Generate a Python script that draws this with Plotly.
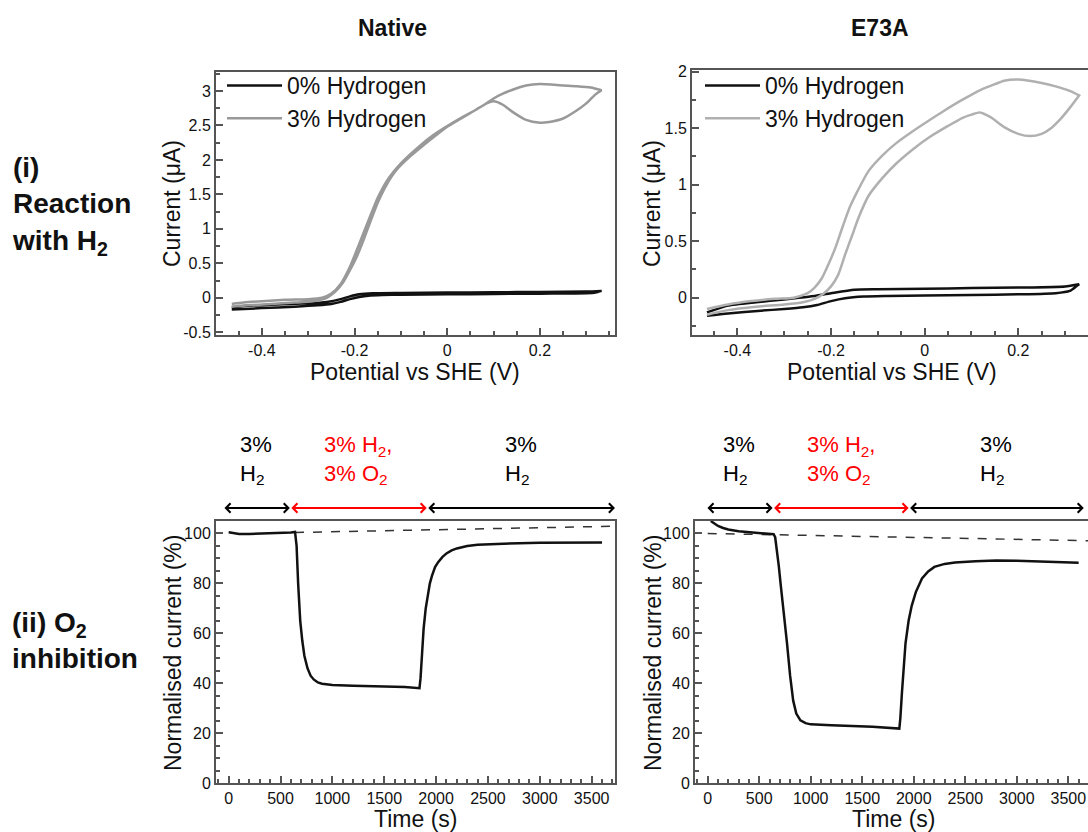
import plotly.graph_objects as go

W, H = 1088, 832
FONT = "Liberation Sans, Arial, sans-serif"

# ---------------- data: cyclic voltammetry (Native) ----------------
nat_h3_fwd_v = [-0.465, -0.43, -0.38, -0.33, -0.29, -0.26, -0.24, -0.225, -0.21, -0.195, -0.18, -0.165, -0.15, -0.13,
                -0.11, -0.08, -0.05, -0.02, 0.0, 0.03, 0.06, 0.085, 0.1, 0.12, 0.14, 0.17, 0.2, 0.22, 0.25, 0.28, 0.3,
                0.32, 0.333]
nat_h3_fwd_i = [-0.13, -0.11, -0.09, -0.07, -0.05, 0.0, 0.1, 0.22, 0.4, 0.6, 0.85, 1.12, 1.38, 1.65, 1.85, 2.05, 2.22,
                2.38, 2.48, 2.6, 2.72, 2.82, 2.85, 2.8, 2.7, 2.58, 2.54, 2.55, 2.6, 2.72, 2.82, 2.95, 3.01]
nat_h3_rev_v = [0.333, 0.31, 0.28, 0.25, 0.2, 0.17, 0.15, 0.12, 0.1, 0.08, 0.06, 0.03, 0.0, -0.03, -0.06, -0.1, -0.13,
                -0.15, -0.17, -0.19, -0.21, -0.23, -0.25, -0.27, -0.3, -0.35, -0.4, -0.44, -0.465]
nat_h3_rev_i = [3.01, 3.05, 3.07, 3.08, 3.1, 3.08, 3.04, 2.96, 2.89, 2.8, 2.72, 2.61, 2.49, 2.36, 2.2, 1.95, 1.7, 1.45,
                1.12, 0.78, 0.45, 0.2, 0.06, 0.0, -0.02, -0.03, -0.05, -0.07, -0.09]
nat_h0_fwd_v = [-0.465, -0.4, -0.33, -0.28, -0.25, -0.23, -0.21, -0.19, -0.17, -0.14, -0.1, 0.0, 0.1, 0.2, 0.3, 0.32, 0.333]
nat_h0_fwd_i = [-0.17, -0.15, -0.13, -0.11, -0.09, -0.06, -0.02, 0.01, 0.03, 0.04, 0.045, 0.05, 0.055, 0.06, 0.065,
                0.075, 0.1]
nat_h0_rev_v = [0.333, 0.3, 0.2, 0.1, 0.0, -0.1, -0.16, -0.19, -0.21, -0.23, -0.26, -0.3, -0.38, -0.44, -0.465]
nat_h0_rev_i = [0.1, 0.09, 0.085, 0.08, 0.075, 0.07, 0.065, 0.05, 0.02, -0.02, -0.06, -0.08, -0.1, -0.12, -0.14]

# ---------------- data: cyclic voltammetry (E73A) ----------------
e73_h3_fwd_v = [-0.465, -0.42, -0.36, -0.3, -0.26, -0.235, -0.215, -0.2, -0.185, -0.17, -0.155, -0.14, -0.12, -0.09,
                -0.06, -0.02, 0.01, 0.05, 0.08, 0.1, 0.118, 0.14, 0.17, 0.2, 0.225, 0.25, 0.27, 0.29, 0.31, 0.33]
e73_h3_fwd_i = [-0.15, -0.11, -0.08, -0.06, -0.04, -0.01, 0.04, 0.1, 0.2, 0.38, 0.55, 0.72, 0.9, 1.06, 1.19, 1.33, 1.42,
                1.52, 1.59, 1.62, 1.64, 1.6, 1.51, 1.45, 1.43, 1.45, 1.5, 1.58, 1.68, 1.79]
e73_h3_rev_v = [0.33, 0.31, 0.28, 0.25, 0.2, 0.17, 0.15, 0.12, 0.08, 0.04, 0.01, -0.03, -0.06, -0.09, -0.12, -0.145,
                -0.16, -0.175, -0.19, -0.205, -0.22, -0.235, -0.25, -0.28, -0.32, -0.37, -0.42, -0.465]
e73_h3_rev_i = [1.79, 1.83, 1.87, 1.9, 1.93, 1.92, 1.89, 1.84, 1.75, 1.65, 1.57, 1.46, 1.37, 1.26, 1.12, 0.93, 0.8,
                0.63, 0.45, 0.3, 0.17, 0.09, 0.04, 0.0, -0.01, -0.03, -0.06, -0.1]
e73_h0_fwd_v = [-0.465, -0.42, -0.35, -0.3, -0.26, -0.23, -0.2, -0.17, -0.13, -0.08, 0.0, 0.1, 0.2, 0.28, 0.31, 0.33]
e73_h0_fwd_i = [-0.16, -0.14, -0.115, -0.1, -0.085, -0.065, -0.03, -0.005, 0.01, 0.015, 0.02, 0.025, 0.03, 0.04, 0.06,
                0.12]
e73_h0_rev_v = [0.33, 0.3, 0.2, 0.1, 0.0, -0.1, -0.15, -0.2, -0.245, -0.3, -0.36, -0.42, -0.465]
e73_h0_rev_i = [0.12, 0.1, 0.09, 0.085, 0.08, 0.075, 0.07, 0.04, 0.01, -0.015, -0.04, -0.07, -0.13]

# ---------------- data: O2 inhibition chronoamperometry ----------------
nat_t = [0, 50, 100, 200, 300, 400, 500, 600, 640, 655, 670, 690, 710, 730, 760, 790, 820, 860, 900, 1000, 1200, 1500,
         1700, 1840, 1850, 1865, 1880, 1900, 1920, 1940, 1960, 1990, 2020, 2060, 2100, 2150, 2200, 2300, 2400, 2600,
         2800, 3000, 3200, 3400, 3600]
nat_cur = [100.5, 100.2, 99.8, 99.8, 99.9, 100.0, 100.2, 100.4, 100.6, 95, 80, 65, 57, 51, 46, 43, 41.5, 40.3, 39.8,
           39.3, 39.0, 38.8, 38.5, 38.0, 42, 52, 62, 70, 76, 80, 83, 86.5, 88.5, 90.5, 92, 93.2, 94, 95, 95.5, 95.9,
           96.1, 96.3, 96.4, 96.5, 96.4]
nat_base_t = [640, 3725]
nat_base_cur = [100.4, 102.9]

e73_t = [30, 60, 100, 150, 200, 300, 400, 500, 600, 640, 655, 670, 690, 710, 740, 770, 800, 830, 860, 900, 950, 1000,
         1200, 1400, 1600, 1860, 1870, 1885, 1900, 1920, 1950, 1980, 2020, 2080, 2140, 2200, 2300, 2400, 2600, 2800,
         3000, 3200, 3400, 3600]
e73_cur = [105, 104, 103, 102.2, 101.6, 100.9, 100.5, 100.2, 99.9, 99.7, 98.5, 94, 87, 79, 68, 56, 43, 33, 27.8, 25.1,
           24.0, 23.5, 23.1, 22.8, 22.5, 21.8, 26, 36, 46, 56, 65, 71, 76.5, 82, 84.8, 86.6, 87.8, 88.4, 88.9, 89.2,
           89.1, 88.9, 88.6, 88.3]
e73_base_t = [0, 3691]
e73_base_cur = [100.0, 97.1]

# gas phase boundaries (s) and labels
nat_phase_edges = [-55, 590, 1910, 3725]
e73_phase_edges = [-17, 630, 1950, 3650]
phase_labels = ["3%<br>H<sub>2</sub>", "3% H<sub>2</sub>,<br>3% O<sub>2</sub>", "3%<br>H<sub>2</sub>"]
phase_colors = ["black", "red", "black"]

# tick labels
cv_x_ticks = [-0.4, -0.2, 0, 0.2]
cv_x_ticktext = ["-0.4", "-0.2", "0", "0.2"]
nat_y_ticks = [-0.5, 0, 0.5, 1, 1.5, 2, 2.5, 3]
nat_y_ticktext = ["-0.5", "0", "0.5", "1", "1.5", "2", "2.5", "3"]
e73_y_ticks = [0, 0.5, 1, 1.5, 2]
e73_y_ticktext = ["0", "0.5", "1", "1.5", "2"]
time_ticks = [0, 500, 1000, 1500, 2000, 2500, 3000, 3500]
norm_ticks = [0, 20, 40, 60, 80, 100]

BLACK = "#111111"
GRAY_N = "#999999"
GRAY_E = "#b0b0b0"
FRAME = "#555555"

fig = go.Figure()


def loop(fv, fi, rv, ri):
    return fv + rv, fi + ri


x, y = loop(nat_h0_fwd_v, nat_h0_fwd_i, nat_h0_rev_v, nat_h0_rev_i)
fig.add_trace(go.Scatter(x=x, y=y, mode="lines", name="0% Hydrogen", line=dict(color=BLACK, width=2.5, shape="spline", smoothing=0.6),
                         xaxis="x", yaxis="y", legend="legend"))
x, y = loop(nat_h3_fwd_v, nat_h3_fwd_i, nat_h3_rev_v, nat_h3_rev_i)
fig.add_trace(go.Scatter(x=x, y=y, mode="lines", name="3% Hydrogen", line=dict(color=GRAY_N, width=2.5, shape="spline", smoothing=0.6),
                         xaxis="x", yaxis="y", legend="legend"))
x, y = loop(e73_h0_fwd_v, e73_h0_fwd_i, e73_h0_rev_v, e73_h0_rev_i)
fig.add_trace(go.Scatter(x=x, y=y, mode="lines", name="0% Hydrogen", line=dict(color=BLACK, width=2.5, shape="spline", smoothing=0.6),
                         xaxis="x2", yaxis="y2", legend="legend2"))
x, y = loop(e73_h3_fwd_v, e73_h3_fwd_i, e73_h3_rev_v, e73_h3_rev_i)
fig.add_trace(go.Scatter(x=x, y=y, mode="lines", name="3% Hydrogen", line=dict(color=GRAY_E, width=2.5, shape="spline", smoothing=0.6),
                         xaxis="x2", yaxis="y2", legend="legend2"))

fig.add_trace(go.Scatter(x=nat_base_t, y=nat_base_cur, mode="lines", showlegend=False,
                         line=dict(color="#333333", width=1.5, dash="dash"), xaxis="x3", yaxis="y3"))
fig.add_trace(go.Scatter(x=nat_t, y=nat_cur, mode="lines", showlegend=False,
                         line=dict(color=BLACK, width=2.5), xaxis="x3", yaxis="y3"))
fig.add_trace(go.Scatter(x=e73_base_t, y=e73_base_cur, mode="lines", showlegend=False,
                         line=dict(color="#333333", width=1.5, dash="dash"), xaxis="x4", yaxis="y4"))
fig.add_trace(go.Scatter(x=e73_t, y=e73_cur, mode="lines", showlegend=False,
                         line=dict(color=BLACK, width=2.5), xaxis="x4", yaxis="y4"))


def px(xp):
    return xp / W


def py(yp):
    return 1 - yp / H


def axis(domain, rng, anchor, **kw):
    d = dict(domain=domain, range=rng, anchor=anchor, showline=True, linecolor=FRAME, linewidth=2, mirror=True,
             ticks="inside", ticklen=7, tickwidth=1.5, tickcolor=FRAME, showgrid=False, zeroline=False,
             tickfont=dict(size=16, color=BLACK, family=FONT), automargin=False)
    d.update(kw)
    return d


fig.update_layout(
    width=W, height=H, autosize=False, margin=dict(l=0, r=0, t=0, b=0),
    paper_bgcolor="white", plot_bgcolor="white", font=dict(family=FONT, color=BLACK),
    xaxis=axis([px(216), px(615)], [-0.499, 0.362], "y", tickvals=cv_x_ticks, ticktext=cv_x_ticktext,
               minor=dict(ticks="inside", ticklen=4, tickcolor=FRAME, dtick=0.05, tick0=0)),
    yaxis=axis([py(335), py(72)], [-0.54, 3.275], "x", tickvals=nat_y_ticks, ticktext=nat_y_ticktext,
               minor=dict(ticks="inside", ticklen=4, tickcolor=FRAME, dtick=0.25, tick0=0)),
    xaxis2=axis([px(692), 1.0], [-0.497, 0.349], "y2", tickvals=cv_x_ticks, ticktext=cv_x_ticktext,
                minor=dict(ticks="inside", ticklen=4, tickcolor=FRAME, dtick=0.05, tick0=0)),
    yaxis2=axis([py(335), py(70)], [-0.33, 2.015], "x2", tickvals=e73_y_ticks, ticktext=e73_y_ticktext,
                minor=dict(ticks="inside", ticklen=4, tickcolor=FRAME, dtick=0.25, tick0=0)),
    xaxis3=axis([px(216), px(615)], [-122, 3725], "y3", tickvals=time_ticks,
                minor=dict(ticks="inside", ticklen=4, tickcolor=FRAME, dtick=100, tick0=0)),
    yaxis3=axis([py(783), py(521)], [0, 105], "x3", tickvals=norm_ticks,
                minor=dict(ticks="inside", ticklen=4, tickcolor=FRAME, dtick=5, tick0=0)),
    xaxis4=axis([px(695), 1.0], [-123, 3691], "y4", tickvals=time_ticks,
                minor=dict(ticks="inside", ticklen=4, tickcolor=FRAME, dtick=100, tick0=0)),
    yaxis4=axis([py(783), py(521)], [0, 105], "x4", tickvals=norm_ticks,
                minor=dict(ticks="inside", ticklen=4, tickcolor=FRAME, dtick=5, tick0=0)),
    legend=dict(x=px(222), y=py(64), xanchor="left", yanchor="top", bgcolor="rgba(0,0,0,0)",
                font=dict(size=23, family=FONT, color=BLACK), tracegroupgap=0, itemwidth=55),
    legend2=dict(x=px(700), y=py(64), xanchor="left", yanchor="top", bgcolor="rgba(0,0,0,0)",
                 font=dict(size=23, family=FONT, color=BLACK), tracegroupgap=0, itemwidth=55),
)


def note(text, xp, yp, size, **kw):
    d = dict(text=text, x=px(xp), y=py(yp), xref="paper", yref="paper", showarrow=False,
             xanchor="center", yanchor="middle", font=dict(size=size, family=FONT, color=BLACK))
    d.update(kw)
    return d


ann = []
# column titles
ann.append(note("<b>Native</b>", 392, 28, 23))
ann.append(note("<b>E73A</b>", 880, 28, 23))
# row labels
ann.append(note("<b>(i)<br>Reaction<br>with H<sub>2</sub></b>", 10, 206, 28, xanchor="left", align="left"))
ann.append(note("<b>(ii) O<sub>2</sub><br>inhibition</b>", 10, 640, 28, xanchor="left", align="left"))
# axis titles
for xc in (415, 892):
    ann.append(note("Potential vs SHE (V)", xc, 372, 23))
for xc in (415, 893):
    ann.append(note("Time (s)", xc, 819, 23))
for xc in (172, 652):
    ann.append(note("Current (μA)", xc, 204, 23, textangle=-90))
for xc in (173, 653):
    ann.append(note("Normalised current (%)", xc, 653, 23, textangle=-90))

# gas phase arrows and labels
for xa, edges in (("x3", nat_phase_edges), ("x4", e73_phase_edges)):
    for k in range(3):
        a, b = edges[k], edges[k + 1]
        ann.append(dict(text="", x=b, ax=a, xref=xa, axref=xa, y=py(508), yref="paper", ay=0, ayref="pixel",
                        showarrow=True, arrowhead=4, startarrowhead=4, arrowside="end+start", arrowsize=0.9,
                        startarrowsize=0.9, arrowwidth=2, arrowcolor=phase_colors[k], standoff=0, startstandoff=0))
        ann.append(dict(text=phase_labels[k], x=(a + b) / 2, xref=xa, y=py(460), yref="paper", showarrow=False,
                        align="left", xanchor="center", yanchor="middle",
                        font=dict(size=22, family=FONT, color=phase_colors[k])))

fig.update_layout(annotations=ann)
fig.write_html("out.html", config={"displayModeBar": False},
               post_script="document.body.style.margin='0';document.body.style.overflow='hidden';")
